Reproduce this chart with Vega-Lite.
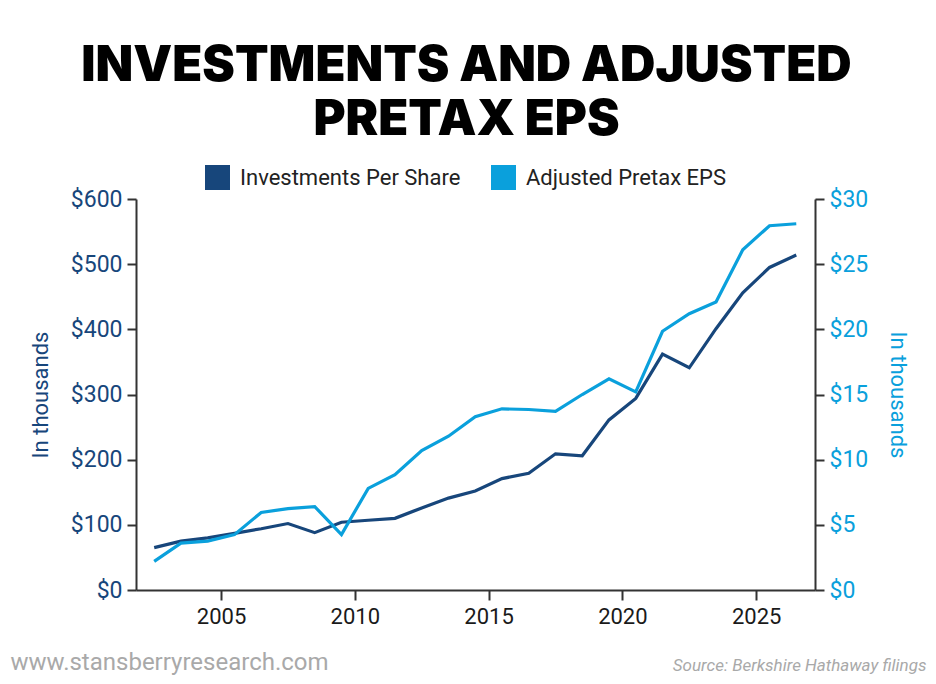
{
  "$schema": "https://vega.github.io/schema/vega-lite/v6.json",
  "width": 679,
  "height": 391,
  "autosize": {"type": "none"},
  "padding": {"left": 136, "top": 199, "right": 121, "bottom": 94},
  "background": "white",
  "title": {
    "text": ["INVESTMENTS AND ADJUSTED", "PRETAX EPS"],
    "anchor": "middle",
    "frame": "group",
    "font": "Inter",
    "fontWeight": 900,
    "fontSize": 49,
    "lineHeight": 54,
    "color": "#000000",
    "dx": -9,
    "offset": 20
  },
  "data": {
    "values": [
      {"Year": 2002.5, "Series": "Investments Per Share", "Value": 65},
      {"Year": 2003.5, "Series": "Investments Per Share", "Value": 75},
      {"Year": 2004.5, "Series": "Investments Per Share", "Value": 80},
      {"Year": 2005.5, "Series": "Investments Per Share", "Value": 87},
      {"Year": 2006.5, "Series": "Investments Per Share", "Value": 94},
      {"Year": 2007.5, "Series": "Investments Per Share", "Value": 102},
      {"Year": 2008.5, "Series": "Investments Per Share", "Value": 88},
      {"Year": 2009.5, "Series": "Investments Per Share", "Value": 104},
      {"Year": 2010.5, "Series": "Investments Per Share", "Value": 107},
      {"Year": 2011.5, "Series": "Investments Per Share", "Value": 110},
      {"Year": 2012.5, "Series": "Investments Per Share", "Value": 126},
      {"Year": 2013.5, "Series": "Investments Per Share", "Value": 141},
      {"Year": 2014.5, "Series": "Investments Per Share", "Value": 152},
      {"Year": 2015.5, "Series": "Investments Per Share", "Value": 171},
      {"Year": 2016.5, "Series": "Investments Per Share", "Value": 179},
      {"Year": 2017.5, "Series": "Investments Per Share", "Value": 209},
      {"Year": 2018.5, "Series": "Investments Per Share", "Value": 206},
      {"Year": 2019.5, "Series": "Investments Per Share", "Value": 261},
      {"Year": 2020.5, "Series": "Investments Per Share", "Value": 294},
      {"Year": 2021.5, "Series": "Investments Per Share", "Value": 362},
      {"Year": 2022.5, "Series": "Investments Per Share", "Value": 341},
      {"Year": 2023.5, "Series": "Investments Per Share", "Value": 401},
      {"Year": 2024.5, "Series": "Investments Per Share", "Value": 456},
      {"Year": 2025.5, "Series": "Investments Per Share", "Value": 495},
      {"Year": 2026.5, "Series": "Investments Per Share", "Value": 514},
      {"Year": 2002.5, "Series": "Adjusted Pretax EPS", "Value": 2.2},
      {"Year": 2003.5, "Series": "Adjusted Pretax EPS", "Value": 3.6},
      {"Year": 2004.5, "Series": "Adjusted Pretax EPS", "Value": 3.75},
      {"Year": 2005.5, "Series": "Adjusted Pretax EPS", "Value": 4.25},
      {"Year": 2006.5, "Series": "Adjusted Pretax EPS", "Value": 5.95},
      {"Year": 2007.5, "Series": "Adjusted Pretax EPS", "Value": 6.25},
      {"Year": 2008.5, "Series": "Adjusted Pretax EPS", "Value": 6.4},
      {"Year": 2009.5, "Series": "Adjusted Pretax EPS", "Value": 4.25},
      {"Year": 2010.5, "Series": "Adjusted Pretax EPS", "Value": 7.8},
      {"Year": 2011.5, "Series": "Adjusted Pretax EPS", "Value": 8.85},
      {"Year": 2012.5, "Series": "Adjusted Pretax EPS", "Value": 10.7},
      {"Year": 2013.5, "Series": "Adjusted Pretax EPS", "Value": 11.8},
      {"Year": 2014.5, "Series": "Adjusted Pretax EPS", "Value": 13.3},
      {"Year": 2015.5, "Series": "Adjusted Pretax EPS", "Value": 13.9},
      {"Year": 2016.5, "Series": "Adjusted Pretax EPS", "Value": 13.85},
      {"Year": 2017.5, "Series": "Adjusted Pretax EPS", "Value": 13.7},
      {"Year": 2018.5, "Series": "Adjusted Pretax EPS", "Value": 15.0},
      {"Year": 2019.5, "Series": "Adjusted Pretax EPS", "Value": 16.2},
      {"Year": 2020.5, "Series": "Adjusted Pretax EPS", "Value": 15.2},
      {"Year": 2021.5, "Series": "Adjusted Pretax EPS", "Value": 19.85},
      {"Year": 2022.5, "Series": "Adjusted Pretax EPS", "Value": 21.2},
      {"Year": 2023.5, "Series": "Adjusted Pretax EPS", "Value": 22.1},
      {"Year": 2024.5, "Series": "Adjusted Pretax EPS", "Value": 26.1},
      {"Year": 2025.5, "Series": "Adjusted Pretax EPS", "Value": 27.95},
      {"Year": 2026.5, "Series": "Adjusted Pretax EPS", "Value": 28.1}
    ]
  },
  "layer": [
    {
      "transform": [{"filter": "datum.Series == 'Investments Per Share'"}],
      "mark": {"type": "line", "strokeWidth": 3.2},
      "encoding": {
        "x": {
          "field": "Year",
          "type": "quantitative",
          "scale": {"domain": [2001.82, 2027.2], "nice": false, "zero": false},
          "axis": {
            "orient": "bottom",
            "values": [2005, 2010, 2015, 2020, 2025],
            "format": "d",
            "grid": false,
            "domainColor": "#333333",
            "domainWidth": 2,
            "tickColor": "#333333",
            "tickWidth": 2,
            "tickSize": 10,
            "labelFont": "Roboto",
            "labelFontSize": 22,
            "labelColor": "#1a1a1a",
            "labelPadding": 6,
            "title": "Source: Berkshire Hathaway filings",
            "titleFont": "Roboto",
            "titleFontStyle": "italic",
            "titleFontWeight": "normal",
            "titleFontSize": 17,
            "titleColor": "#a9a9a9",
            "titleAlign": "right",
            "titleBaseline": "alphabetic",
            "titleX": 790,
            "titleY": 80
          }
        },
        "y": {
          "field": "Value",
          "type": "quantitative",
          "scale": {"domain": [0, 600], "nice": false},
          "axis": {
            "values": [0, 100, 200, 300, 400, 500, 600],
            "format": "$,d",
            "grid": false,
            "domainColor": "#333333",
            "domainWidth": 2,
            "tickColor": "#333333",
            "tickWidth": 2,
            "tickSize": 9,
            "labelFont": "Roboto",
            "labelFontSize": 23,
            "labelColor": "#17467b",
            "labelPadding": 5,
            "title": "In thousands",
            "titleFont": "Roboto",
            "titleFontWeight": "normal",
            "titleFontSize": 22,
            "titleColor": "#17467b",
            "titlePadding": 18
          }
        },
        "color": {
          "field": "Series",
          "type": "nominal",
          "scale": {"domain": ["Investments Per Share", "Adjusted Pretax EPS"], "range": ["#17467b", "#0aa0dc"]},
          "legend": {
            "orient": "none",
            "direction": "horizontal",
            "legendX": 69,
            "legendY": -34,
            "title": null,
            "symbolType": "square",
            "symbolSize": 625,
            "symbolStrokeWidth": 0,
            "labelFont": "Roboto",
            "labelFontSize": 22,
            "labelColor": "#222222",
            "labelOffset": 10,
            "columnPadding": 30,
            "labelLimit": 400,
            "encode": {"symbols": {"update": {"fill": {"scale": "color", "field": "value"}, "opacity": {"value": 1}}}}
          }
        }
      }
    },
    {
      "transform": [{"filter": "datum.Series == 'Adjusted Pretax EPS'"}],
      "mark": {"type": "line", "strokeWidth": 3.2},
      "encoding": {
        "x": {
          "field": "Year",
          "type": "quantitative",
          "axis": {
            "orient": "bottom",
            "labels": false,
            "ticks": false,
            "domain": false,
            "grid": false,
            "title": "www.stansberryresearch.com",
            "titleFont": "Roboto",
            "titleFontWeight": "normal",
            "titleFontSize": 24,
            "titleColor": "#a9a9a9",
            "titleAlign": "left",
            "titleBaseline": "alphabetic",
            "titleX": -126,
            "titleY": 79
          }
        },
        "y": {
          "field": "Value",
          "type": "quantitative",
          "scale": {"domain": [0, 30], "nice": false},
          "axis": {
            "orient": "right",
            "values": [0, 5, 10, 15, 20, 25, 30],
            "format": "$,d",
            "grid": false,
            "domainColor": "#333333",
            "domainWidth": 2,
            "tickColor": "#333333",
            "tickWidth": 2,
            "tickSize": 9,
            "labelFont": "Roboto",
            "labelFontSize": 23,
            "labelColor": "#0aa0dc",
            "labelPadding": 5,
            "title": "In thousands",
            "titleFont": "Roboto",
            "titleFontWeight": "normal",
            "titleFontSize": 22,
            "titleColor": "#0aa0dc",
            "titlePadding": 18
          }
        },
        "color": {"field": "Series", "type": "nominal"}
      }
    }
  ],
  "resolve": {"scale": {"y": "independent"}, "axis": {"x": "independent"}},
  "config": {"view": {"stroke": null}}
}
